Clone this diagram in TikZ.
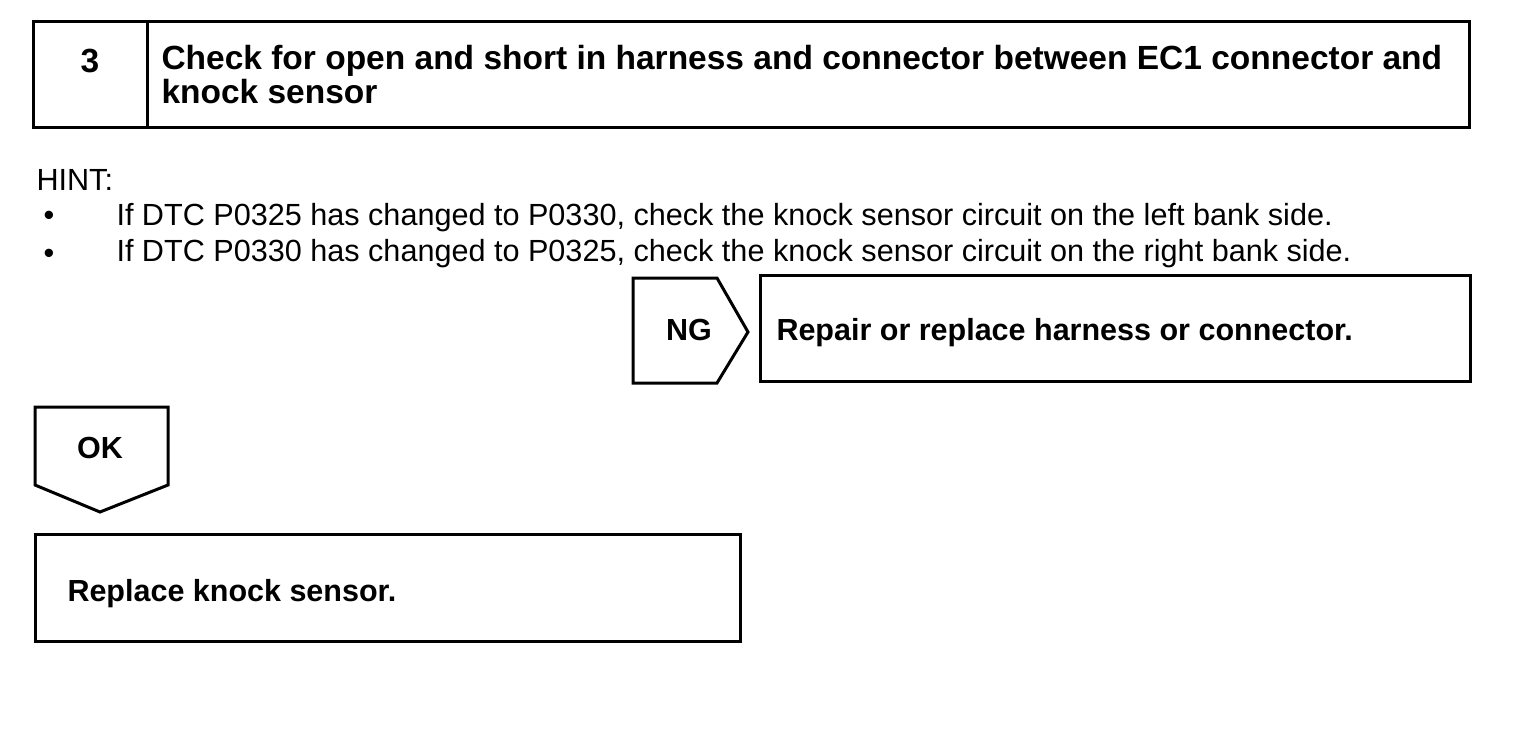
\documentclass[tikz,border=0pt]{standalone}
\usepackage{fontspec}
\setmainfont{Liberation Sans}
\newcommand\headfont{\bfseries\fontsize{33.5}{34}\selectfont}
\newcommand\boxfont{\bfseries\fontsize{30.5}{34}\selectfont}
\newcommand\hintfont{\fontsize{30.6}{36}\selectfont}

\begin{document}
\begin{tikzpicture}[x=1pt,y=-1pt,line width=3pt]
  \tikzset{txt/.style={inner sep=0pt,anchor=base west}}
  \useasboundingbox (0,0) rectangle (1536,734);
  % step header
  \draw (33,21) rectangle (1469,127);
  \draw (147,21) -- (147,127);
  \node[txt,anchor=base,font=\headfont] (num) at (90,72) {3};
  \node[txt,align=left,font=\headfont] (head) at (160,103)
       {Check for open and short in harness and connector between EC1 connector and\\knock sensor};
  % hint
  \node[txt,font=\hintfont] (hint) at (35,190) {HINT:};
  \node[txt,anchor=base,font=\hintfont] (b1) at (49,225) {\textbullet};
  \node[txt,anchor=base,font=\hintfont] (b2) at (49,263) {\textbullet};
  \node[txt,font=\hintfont] (h1) at (115,225)
       {If DTC P0325 has changed to P0330, check the knock sensor circuit on the left bank side.};
  \node[txt,font=\hintfont] (h2) at (115,261)
       {If DTC P0330 has changed to P0325, check the knock sensor circuit on the right bank side.};
  % NG branch
  \draw (633,278) -- (717,278) -- (748,332) -- (717,383) -- (633,383) -- cycle;
  \node[font=\boxfont] (ng) at (689,330) {NG};
  \draw (760,275) rectangle (1470,381);
  \node[txt,font=\boxfont] (repair) at (775,340) {Repair or replace harness or connector.};
  % OK branch
  \draw (35,407) -- (168,407) -- (168,485) -- (100,512) -- (35,485) -- cycle;
  \node[font=\boxfont] (ok) at (100,448) {OK};
  \draw (35,534) rectangle (740,641);
  \node[txt,font=\boxfont] (replace) at (66,601) {Replace knock sensor.};
\end{tikzpicture}
\end{document}
